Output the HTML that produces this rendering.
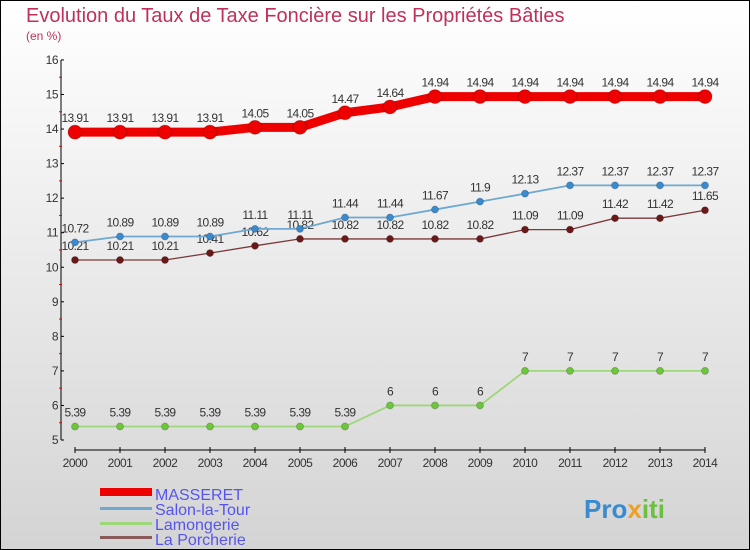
<!DOCTYPE html>
<html><head><meta charset="utf-8"><style>
body{margin:0}
#c{width:750px;height:550px;position:relative;box-sizing:border-box;border:1px solid #000;background:linear-gradient(#fff,#d4d4d4);font-family:"Liberation Sans",sans-serif;overflow:hidden}
</style></head><body>
<div id="c">
<svg id="s" width="750" height="550" style="position:absolute;left:-1px;top:-1px">
<text x="26" y="22" font-size="20" fill="#c0305a">Evolution du Taux de Taxe Foncière sur les Propriétés Bâties</text>
<text x="26" y="40" font-size="12" fill="#c0305a">(en %)</text>
<g id="ax"></g><g id="series"></g>
<g>
<rect x="100" y="488" width="52" height="8" fill="#e00"/>
<text x="155" y="500" font-size="16" fill="#5555ee">MASSERET</text>
<rect x="100" y="507" width="52" height="3" fill="#6fa8d0"/>
<text x="155" y="515" font-size="16" fill="#5555ee">Salon-la-Tour</text>
<rect x="100" y="522" width="52" height="3" fill="#9ed67a"/>
<text x="155" y="530" font-size="16" fill="#5555ee">Lamongerie</text>
<rect x="100" y="536" width="52" height="3" fill="#8a5a5a"/>
<text x="155" y="545" font-size="16" fill="#5555ee">La Porcherie</text>
</g>
<text x="584" y="518" font-size="26" font-weight="bold" fill="#3a8ad0">Pro<tspan fill="#f0a020">x</tspan><tspan fill="#6cc040">iti</tspan></text>
</svg>
</div>
<script>
const years=[2000,2001,2002,2003,2004,2005,2006,2007,2008,2009,2010,2011,2012,2013,2014];
const yTicks=[5,6,7,8,9,10,11,12,13,14,15,16];
const masseret=[13.91,13.91,13.91,13.91,14.05,14.05,14.47,14.64,14.94,14.94,14.94,14.94,14.94,14.94,14.94];
const salon=[10.72,10.89,10.89,10.89,11.11,11.11,11.44,11.44,11.67,11.9,12.13,12.37,12.37,12.37,12.37];
const lamongerie=[5.39,5.39,5.39,5.39,5.39,5.39,5.39,6,6,6,7,7,7,7,7];
const porcherie=[10.21,10.21,10.21,10.41,10.62,10.82,10.82,10.82,10.82,10.82,11.09,11.09,11.42,11.42,11.65];
const NS='http://www.w3.org/2000/svg';
const X=i=>75+i*45, Y=v=>440-(v-5)*34.55;
function mk(t,a,p){const e=document.createElementNS(NS,t);for(const k in a)e.setAttribute(k,a[k]);p.appendChild(e);return e;}
const ax=document.getElementById('ax'), sg=document.getElementById('series');
let e=mk('line',{x1:61,y1:60,x2:61,y2:440,stroke:'#000','stroke-width':1},ax);


e=mk('line',{x1:75,y1:450,x2:705,y2:450,stroke:'#000','stroke-width':1},ax);


yTicks.forEach(v=>{
 mk('line',{x1:61,y1:Y(v),x2:64,y2:Y(v),stroke:'#000'},ax);
 if(v<16)mk('line',{x1:59,y1:Y(v+0.5),x2:62,y2:Y(v+0.5),stroke:'#e00'},ax);
 const t=mk('text',{x:58,y:Y(v)+4,'font-size':12,fill:'#333','text-anchor':'end','letter-spacing':'-0.5'},ax);
 t.textContent=v;
 
 
});
years.forEach((y,i)=>{
 mk('line',{x1:X(i),y1:447,x2:X(i),y2:453,stroke:'#000'},ax);
 const t=mk('text',{x:X(i),y:467,'font-size':12,fill:'#333','text-anchor':'middle','letter-spacing':'-0.5'},ax);
 t.textContent=y;
 
 
});
function draw(name,data,col,dot,lw,r){
 const g=mk('g',{},sg);
 
 
 mk('polyline',{points:data.map((v,i)=>X(i)+','+Y(v)).join(' '),fill:'none',stroke:col,'stroke-width':lw},g);
 data.forEach((v,i)=>{
  const c=mk('circle',{cx:X(i),cy:Y(v),r:r,fill:dot,stroke:'rgba(0,0,0,0.2)'},g);
  
  
  const t=mk('text',{x:X(i),y:Y(v)-10,'font-size':12,fill:'#333','text-anchor':'middle','letter-spacing':'-0.6'},g);
  t.textContent=String(v);
  
  
 });
}
draw('lamongerie',lamongerie,'#9ed67a','#6cc83a',1.8,3.5);
draw('porcherie',porcherie,'#7a3a3a','#6a1818',1.3,3.5);
draw('salon',salon,'#6fa8d0','#3a8ad0',1.8,3.5);
draw('masseret',masseret,'#e00','#e00',9,7);
</script>
</body></html>
